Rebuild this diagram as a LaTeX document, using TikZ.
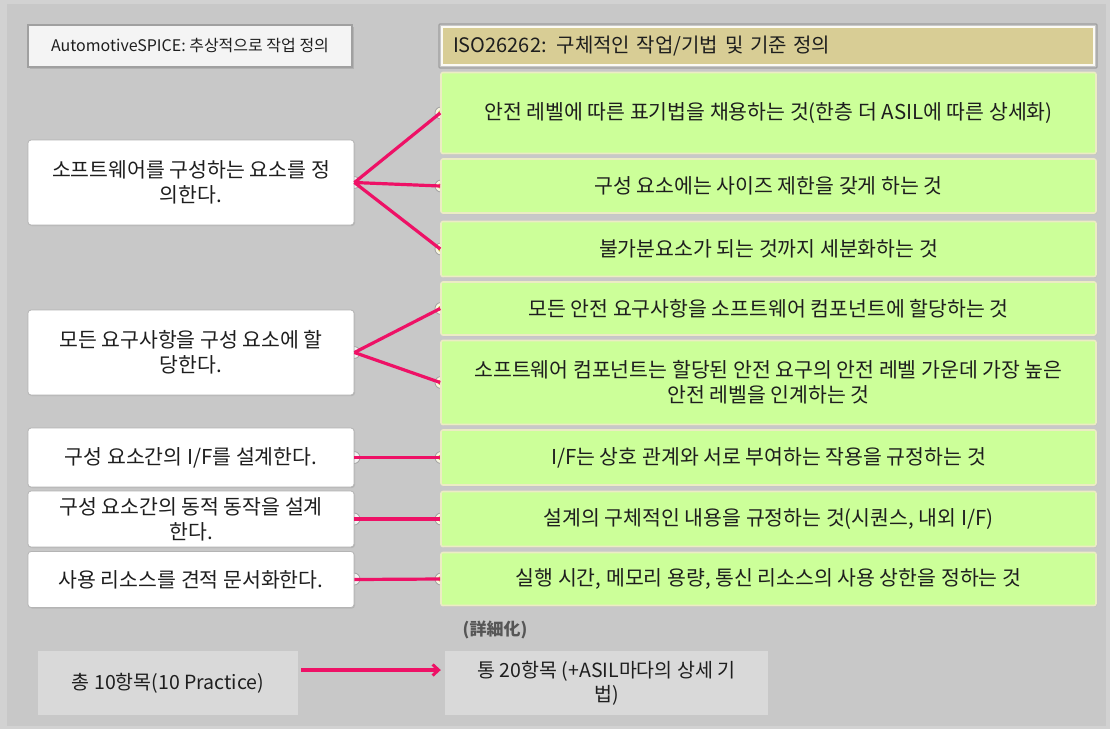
\documentclass[tikz,border=0pt]{standalone}
\usepackage{fontspec}
\setmainfont{Noto Sans CJK KR}
\usetikzlibrary{arrows.meta,calc,shadows}
\definecolor{bgedge}{HTML}{D2D2D2}
\definecolor{bg}{HTML}{C8C8C8}
\definecolor{txt}{HTML}{1E1E1E}
\definecolor{pinkline}{HTML}{EE1166}
\definecolor{greenfill}{HTML}{CCFF99}
\definecolor{greenedge}{HTML}{ECECC4}
\definecolor{khaki}{HTML}{D8CD95}
\definecolor{hdrleft}{HTML}{F4F4F4}
\definecolor{boxgray}{HTML}{B4B4B4}
\definecolor{bottombox}{HTML}{D9D9D9}
\definecolor{ringgray}{HTML}{A0A0A0}
\definecolor{olive}{HTML}{C8C040}
\tikzset{
  maintext/.style={font=\fontsize{20.5}{25}\selectfont, text=txt},
  wbox/.style={maintext, fill=white, draw=boxgray, line width=0.8pt, rounded corners=3pt,
    minimum width=326pt, inner sep=0pt, align=center,
    drop shadow={opacity=0.25, shadow xshift=1pt, shadow yshift=-1pt}},
  gbox/.style={maintext, fill=greenfill, draw=greenedge, line width=1.6pt, rounded corners=2pt,
    minimum width=655pt, inner sep=0pt, align=center,
    drop shadow={opacity=0.15, shadow xshift=1pt, shadow yshift=-1pt}},
  hleft/.style={font=\fontsize{16}{19}\selectfont, text=txt, fill=hdrleft, draw=ringgray, line width=1.2pt,
    minimum width=324pt, minimum height=42pt, inner sep=0pt,
    drop shadow={opacity=0.3, shadow xshift=1.5pt, shadow yshift=-1.5pt}},
  hright/.style={font=\fontsize{20}{24}\selectfont, text=txt, fill=khaki, draw=white!90!khaki, line width=2pt,
    minimum width=652pt, minimum height=38pt, inner sep=0pt, text width=630pt, align=left},
  bbox/.style={font=\fontsize{19.5}{24}\selectfont, text=txt, fill=bottombox, draw=none,
    minimum height=64pt, inner sep=0pt, align=center},
  lring/.style={fill=hdrleft, draw=ringgray, line width=0.8pt},
  rring/.style={fill=white!85!olive, draw=ringgray, line width=0.8pt},
  rdot/.style={fill=olive},
  link/.style={draw=pinkline, line width=3.2pt},
}
\begin{document}
\begin{tikzpicture}[x=1pt,y=-1pt]
\fill[bgedge] (0,0) rectangle (1110,729);
\fill[bg] (7,4) rectangle (1106,726);
\useasboundingbox (0,0) rectangle (1110,729);

% connector rings (under boxes)
\foreach \y in {182.5,352.5,457.5,519,579}{
  \filldraw[lring] (354,\y) circle (6);
}
\foreach \y in {113,186,249,308.5,382.5,457.5,519,579}{
  \filldraw[rring] (441,\y) circle (6);
  \fill[rdot] (441,\y) circle (3);
}

% headers
\node[hleft] (hl) at (190,46) {AutomotiveSPICE: 추상적으로 작업 정의};
\node[hright] (hr) at (768,46) {ISO26262: 구체적인 작업/기법 및 기준 정의};
\draw[ringgray, line width=1.2pt, rounded corners=1pt] ($(hr.north west)+(-2,-2)$) rectangle ($(hr.south east)+(2,2)$);

% left (Automotive SPICE) boxes
\node[wbox, minimum height=85pt] (w1) at (191,182.5) {소프트웨어를 구성하는 요소를 정\\의한다.};
\node[wbox, minimum height=85pt] (w2) at (191,352.5) {모든 요구사항을 구성 요소에 할\\당한다.};
\node[wbox, minimum height=59pt] (w3) at (191,457.5) {구성 요소간의 I/F를 설계한다.};
\node[wbox, minimum height=56pt] (w4) at (191,519) {구성 요소간의 동적 동작을 설계\\한다.};
\node[wbox, minimum height=56pt] (w5) at (191,579.5) {사용 리소스를 견적 문서화한다.};

% right (ISO 26262) boxes
\node[gbox, minimum height=81pt] (g1) at (768.5,113) {안전 레벨에 따른 표기법을 채용하는 것(한층 더 ASIL에 따른 상세화)};
\node[gbox, minimum height=54pt] (g2) at (768.5,186) {구성 요소에는 사이즈 제한을 갖게 하는 것};
\node[gbox, minimum height=55pt] (g3) at (768.5,249) {불가분요소가 되는 것까지 세분화하는 것};
\node[gbox, minimum height=53pt] (g4) at (768.5,308.5) {모든 안전 요구사항을 소프트웨어 컴포넌트에 할당하는 것};
\node[gbox, minimum height=84pt] (g5) at (768.5,382.5) {소프트웨어 컴포넌트는 할당된 안전 요구의 안전 레벨 가운데 가장 높은\\안전 레벨을 인계하는 것};
\node[gbox, minimum height=55pt] (g6) at (768.5,457.5) {I/F는 상호 관계와 서로 부여하는 작용을 규정하는 것};
\node[gbox, minimum height=55pt] (g7) at (768.5,519) {설계의 구체적인 내용을 규정하는 것(시퀀스, 내외 I/F)};
\node[gbox, minimum height=53pt] (g8) at (768.5,579) {실행 시간, 메모리 용량, 통신 리소스의 사용 상한을 정하는 것};

% connectors
\draw[link] (w1.east) -- (g1.west);
\draw[link] (w1.east) -- (g2.west);
\draw[link] (w1.east) -- (g3.west);
\draw[link] (w2.east) -- (g4.west);
\draw[link] (w2.east) -- (g5.west);
\draw[link] (w3.east) -- (g6.west);
\draw[link] (w4.east) -- (g7.west);
\draw[link] (w5.east) -- (g8.west);

% bottom summary
\node[font=\fontsize{17}{20}\selectfont\bfseries, text=txt!75] (lbl) at (495,630) {(詳細化)};
\node[bbox, minimum width=260pt] (bl) at (168,683) {총 10항목(10 Practice)};
\node[bbox, minimum width=323pt] (br) at (606.5,683) {통 20항목 (+ASIL마다의 상세 기\\법)};
\draw[link, -{Straight Barb[length=6pt,width=11pt,line width=3pt]}, shorten <=3pt, shorten >=4pt]
  ([yshift=13pt]bl.east) -- ([yshift=13pt]br.west);
\end{tikzpicture}
\end{document}
